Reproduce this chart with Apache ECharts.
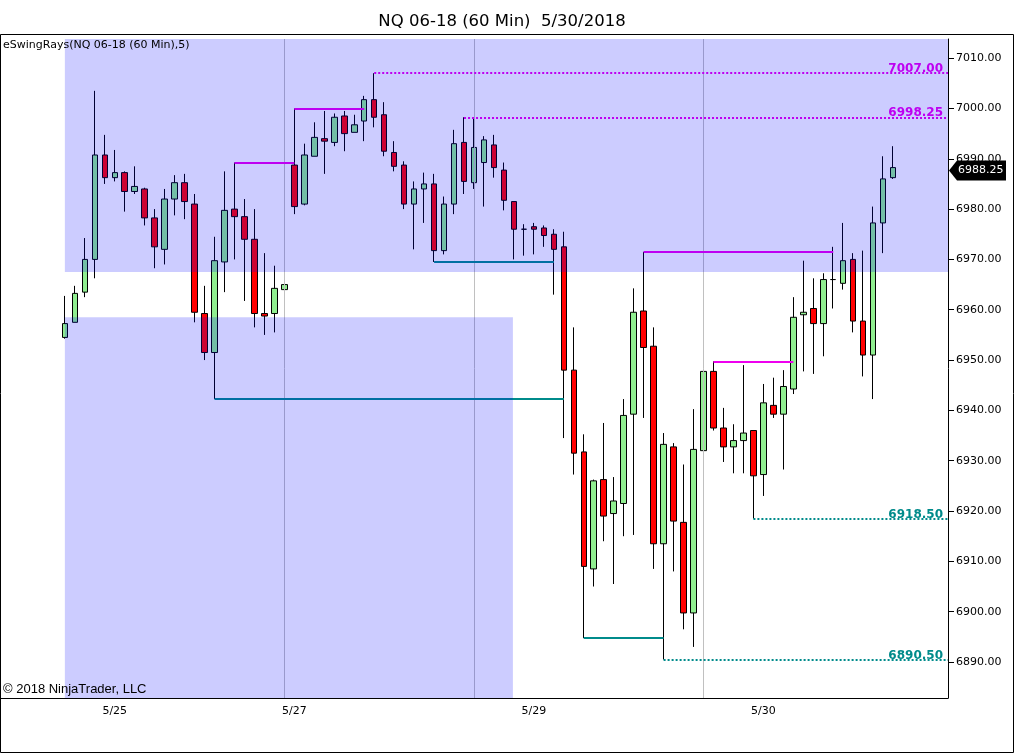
<!DOCTYPE html>
<html>
<head>
<meta charset="utf-8">
<title>NQ 06-18 (60 Min)</title>
<script src="https://cdn.jsdelivr.net/npm/echarts@6/dist/echarts.min.js"></script>
<style>
html, body { margin: 0; padding: 0; background: #fff; }
#main { width: 1016px; height: 754px; }
</style>
</head>
<body>
<div id="main"></div>
<script>
// 60 min bars
var open = [6954.5, 6957.5, 6963.5, 6970, 6990.75, 6986.25, 6987.25, 6983.5, 6984, 6978.25,
	6972, 6982, 6985.25, 6981, 6959.25, 6951.5, 6969.5, 6980, 6978.5, 6974,
	6959.25, 6959.25, 6964, 6988.75, 6981, 6990.5, 6994, 6993.25, 6998.5, 6995.25,
	6997.5, 7001.75, 6998.75, 6991.25, 6988.75, 6981, 6984, 6985, 6971.75, 6981,
	6993.25, 6985.25, 6989.25, 6992.75, 6987.75, 6981.5, 6976, 6976.5, 6976.25, 6975,
	6972.5, 6948, 6931.75, 6908.5, 6926.25, 6919.5, 6921.5, 6939.25, 6959.75, 6952.75,
	6913.5, 6932.75, 6917.75, 6899.75, 6932, 6947.75, 6936.5, 6932.75, 6934, 6936,
	6927.25, 6941, 6939.25, 6944.25, 6959, 6960.25, 6957.25, 6966, 6965.25, 6970,
	6957.75, 6951, 6977.25, 6986.25];
var close = [6957.25, 6963.25, 6970, 6990.75, 6986.25, 6987.25, 6983.5, 6984.5, 6978.25, 6972.5,
	6982, 6985.25, 6981.5, 6959.5, 6951.5, 6969.75, 6979.75, 6978.5, 6974, 6959.25,
	6958.75, 6964.25, 6965, 6980.5, 6990.75, 6994.25, 6993.5, 6998.25, 6995, 6996.75,
	7001.75, 6998.25, 6991.5, 6988.5, 6981, 6984, 6985, 6971.75, 6981, 6993,
	6985.5, 6992.25, 6993.75, 6988.25, 6981.75, 6976, 6976, 6976, 6974.75, 6972,
	6948, 6931.5, 6909, 6926, 6919, 6922, 6939, 6959.5, 6952.5, 6913.5,
	6933.25, 6918, 6899.75, 6932.25, 6947.75, 6936.5, 6932.75, 6934, 6935.5, 6927,
	6941.5, 6939.25, 6944.75, 6958.5, 6959.5, 6957.25, 6966, 6966, 6969.75, 6957.75,
	6951, 6977.25, 6986, 6988.25];
var low = [6954.25, 6957.5, 6962.5, 6966.25, 6985, 6985.5, 6979.5, 6983, 6976.75, 6968.25,
	6969, 6978.75, 6978, 6957.5, 6950, 6942.25, 6963.5, 6970, 6961.75, 6956.5,
	6955, 6955.5, 6956.25, 6979, 6980.75, 6990.5, 6987, 6992.5, 6991.5, 6995.25,
	6993.5, 6996.25, 6990.5, 6987.5, 6980, 6972, 6977.25, 6969.5, 6971, 6979,
	6983, 6984, 6980.5, 6986.25, 6979.75, 6970, 6970.75, 6971, 6972.5, 6963,
	6934.5, 6927.25, 6894.75, 6905, 6914, 6905.5, 6915, 6915.25, 6938.5, 6908.5,
	6890.5, 6908, 6896.5, 6893, 6930.75, 6936, 6929.75, 6927.5, 6927.5, 6918.5,
	6923, 6938.5, 6928.25, 6943.25, 6947.75, 6947.25, 6950.75, 6960.25, 6964, 6955.5,
	6946.75, 6942.25, 6971.25, 6986];
var high = [6962.75, 6964.75, 6974.25, 7003.5, 6994.75, 6991.75, 6987.5, 6988.5, 6984.25, 6980,
	6984, 6986.75, 6987, 6983, 6964.75, 6974.5, 6987.5, 6989.25, 6982, 6980,
	6971.25, 6968.75, 6966.5, 7000, 6993, 6997.25, 6999.5, 6999, 6999.5, 6998.75,
	7002.5, 7007, 7001.25, 6993.5, 6989.5, 6985.5, 6987.25, 6987, 6982.5, 6995.75,
	6998.25, 6998, 6994.5, 6994.75, 6989.25, 6981.5, 6977, 6977.25, 6976.75, 6976,
	6975.5, 6956.5, 6935.25, 6926.25, 6937.5, 6926.75, 6942.25, 6964.25, 6971.5, 6956.5,
	6935.5, 6933.5, 6929.25, 6940.25, 6948.25, 6949.75, 6940.5, 6937.25, 6949, 6936,
	6945.25, 6946.5, 6948, 6962.5, 6969.75, 6966.25, 6967.25, 6972.5, 6977.25, 6971.25,
	6971.75, 6980.5, 6990.5, 6992.5];

// swing rays: bar where they start, bar that broke them (null = still open)
var highRayFrom = [17, 23, 31, 40, 58, 65];
var highRayTo = [23, 30, null, null, 77, 73];
var lowRayFrom = [15, 37, 52, 60, 69];
var lowRayTo = [50, 49, 60, null, null];

// shaded zones (null = runs to the plot edge)
var zoneFrom = [0, 0];
var zoneTo = [null, 44.9];
var zoneLow = [6967.5, null];
var zoneHigh = [null, 6958.5];

var sessionBreaks = [22, 41, 64];

var xTickAt = [5, 23, 28, 47, 70];
var xTickText = ['5/25', '5/27', '', '5/29', '5/30'];
var yTicks = [6890, 6900, 6910, 6920, 6930, 6940, 6950, 6960, 6970, 6980, 6990, 7000, 7010];

var padLeft = 6, padRight = 5;
var slots = padLeft + open.length + padRight;
var xMin = -padLeft - 0.5, xMax = open.length + padRight - 0.5;
var yMin = 6882.85, yMax = 7013.8;

var magenta = '#ee00ee', teal = '#008b8b';

var categories = [];
for (var k = 0; k < slots; k++) categories.push(String(k - padLeft));

var candles = open.map(function (o, i) {
	return [padLeft + i, o, close[i], low[i], high[i]];
});

function ray(from, to, price, color) {
	var isOpen = (to === null);
	return [{
		coord: [from, price],
		lineStyle: { color: color, width: 2, type: isOpen ? 'dotted' : 'solid' },
		label: isOpen ? {
			show: true, position: 'insideEndTop', distance: [5, -2],
			formatter: price.toFixed(2), color: color,
			fontFamily: 'DejaVu Sans', fontSize: 12, fontWeight: 'bold'
		} : { show: false }
	}, { coord: [isOpen ? xMax : to, price] }];
}

var lines = [];
sessionBreaks.forEach(function (b) {
	lines.push({ xAxis: b, lineStyle: { color: '#c0c0c0', width: 1, type: 'solid' }, label: { show: false } });
});
highRayFrom.forEach(function (f, n) { lines.push(ray(f, highRayTo[n], high[f], magenta)); });
lowRayFrom.forEach(function (f, n) { lines.push(ray(f, lowRayTo[n], low[f], teal)); });

var zones = zoneFrom.map(function (f, n) {
	return [f, zoneTo[n] === null ? xMax : zoneTo[n],
		zoneLow[n] === null ? yMin : zoneLow[n],
		zoneHigh[n] === null ? yMax : zoneHigh[n]];
});

function isTick(index) {
	return xTickAt.indexOf(index - padLeft) >= 0;
}

var chart = echarts.init(document.getElementById('main'));
chart.setOption({
	animation: false,
	backgroundColor: '#fff',
	title: {
		text: 'NQ 06-18 (60 Min)  5/30/2018',
		left: 497, top: 8, textAlign: 'center',
		textStyle: { fontFamily: 'DejaVu Sans', fontSize: 16.5, fontWeight: 'normal', color: '#000' }
	},
	grid: { left: 0, right: 68, top: 39, bottom: 56, containLabel: false, outerBoundsMode: 'none' },
	xAxis: [{
		type: 'category', data: categories, boundaryGap: true,
		axisLine: { onZero: false, lineStyle: { color: '#000', width: 1 } },
		axisTick: { alignWithLabel: true, length: 5, interval: isTick, lineStyle: { color: '#000' } },
		axisLabel: {
			interval: isTick, margin: 8, color: '#000', fontFamily: 'DejaVu Sans', fontSize: 11,
			formatter: function (v) {
				var i = xTickAt.indexOf(Number(v));
				return i >= 0 ? xTickText[i] : '';
			}
		},
		splitLine: { show: false }
	}, {
		type: 'value', min: xMin, max: xMax, show: false
	}],
	yAxis: {
		type: 'value', position: 'right', min: yMin, max: yMax,
		axisLine: { show: true, onZero: false, lineStyle: { color: '#000' } },
		axisTick: { show: true, length: 6, customValues: yTicks, lineStyle: { color: '#000' } },
		axisLabel: {
			customValues: yTicks, margin: 8, color: '#000', fontFamily: 'DejaVu Sans', fontSize: 11,
			formatter: function (v) { return v.toFixed(2); }
		},
		splitLine: { show: false }
	},
	series: [{
		type: 'candlestick', data: candles, encode: { x: 0, y: [1, 2, 3, 4] },
		barWidth: 6, z: 2, silent: true,
		itemStyle: {
			color: '#90ee90', color0: '#ff0000',
			borderColor: '#000', borderColor0: '#000', borderColorDoji: '#000', borderWidth: 1
		}
	}, {
		type: 'line', xAxisIndex: 1, data: [], z: 3, silent: true,
		markLine: { symbol: ['none', 'none'], silent: true, animation: false, data: lines }
	}, {
		type: 'custom', xAxisIndex: 1, z: 10, silent: true, clip: true,
		data: zones, encode: { x: [0, 1], y: [2, 3] },
		renderItem: function (params, api) {
			var a = api.coord([api.value(0), api.value(3)]);
			var b = api.coord([api.value(1), api.value(2)]);
			return {
				type: 'rect',
				shape: { x: a[0], y: a[1], width: b[0] - a[0], height: b[1] - a[1] },
				style: { fill: 'rgba(0,0,255,0.2)' }
			};
		}
	}]
});

// last price tag on the price scale
var last = close[close.length - 1];
var py = chart.convertToPixel({ yAxisIndex: 0 }, last);
var px = chart.convertToPixel({ xAxisIndex: 1 }, xMax);
chart.setOption({
	graphic: [{
		type: 'rect', z: 50, silent: true,
		shape: { x: 0.5, y: 34.5, width: 1013, height: 718 },
		style: { fill: 'none', stroke: '#000', lineWidth: 1 }
	}, {
		type: 'text', x: 3, y: 40, z: 50, silent: true,
		style: { text: 'eSwingRays(NQ 06-18 (60 Min),5)', font: '11px "DejaVu Sans"', fill: '#000' }
	}, {
		type: 'text', x: 3, y: 683, z: 50, silent: true,
		style: { text: '\u00a9 2018 NinjaTrader, LLC', font: '13px "Liberation Sans"', fill: '#000' }
	}, {
		type: 'polygon', z: 100, silent: true,
		shape: { points: [[px + 1, py + 3], [px + 9, py - 7], [px + 58, py - 7], [px + 58, py + 13], [px + 9, py + 13]] },
		style: { fill: '#000' }
	}, {
		type: 'text', x: px + 10, y: py + 3, z: 101, silent: true,
		style: { text: last.toFixed(2), font: '11px "DejaVu Sans"', fill: '#fff', verticalAlign: 'middle' }
	}]
});
</script>
</body>
</html>
